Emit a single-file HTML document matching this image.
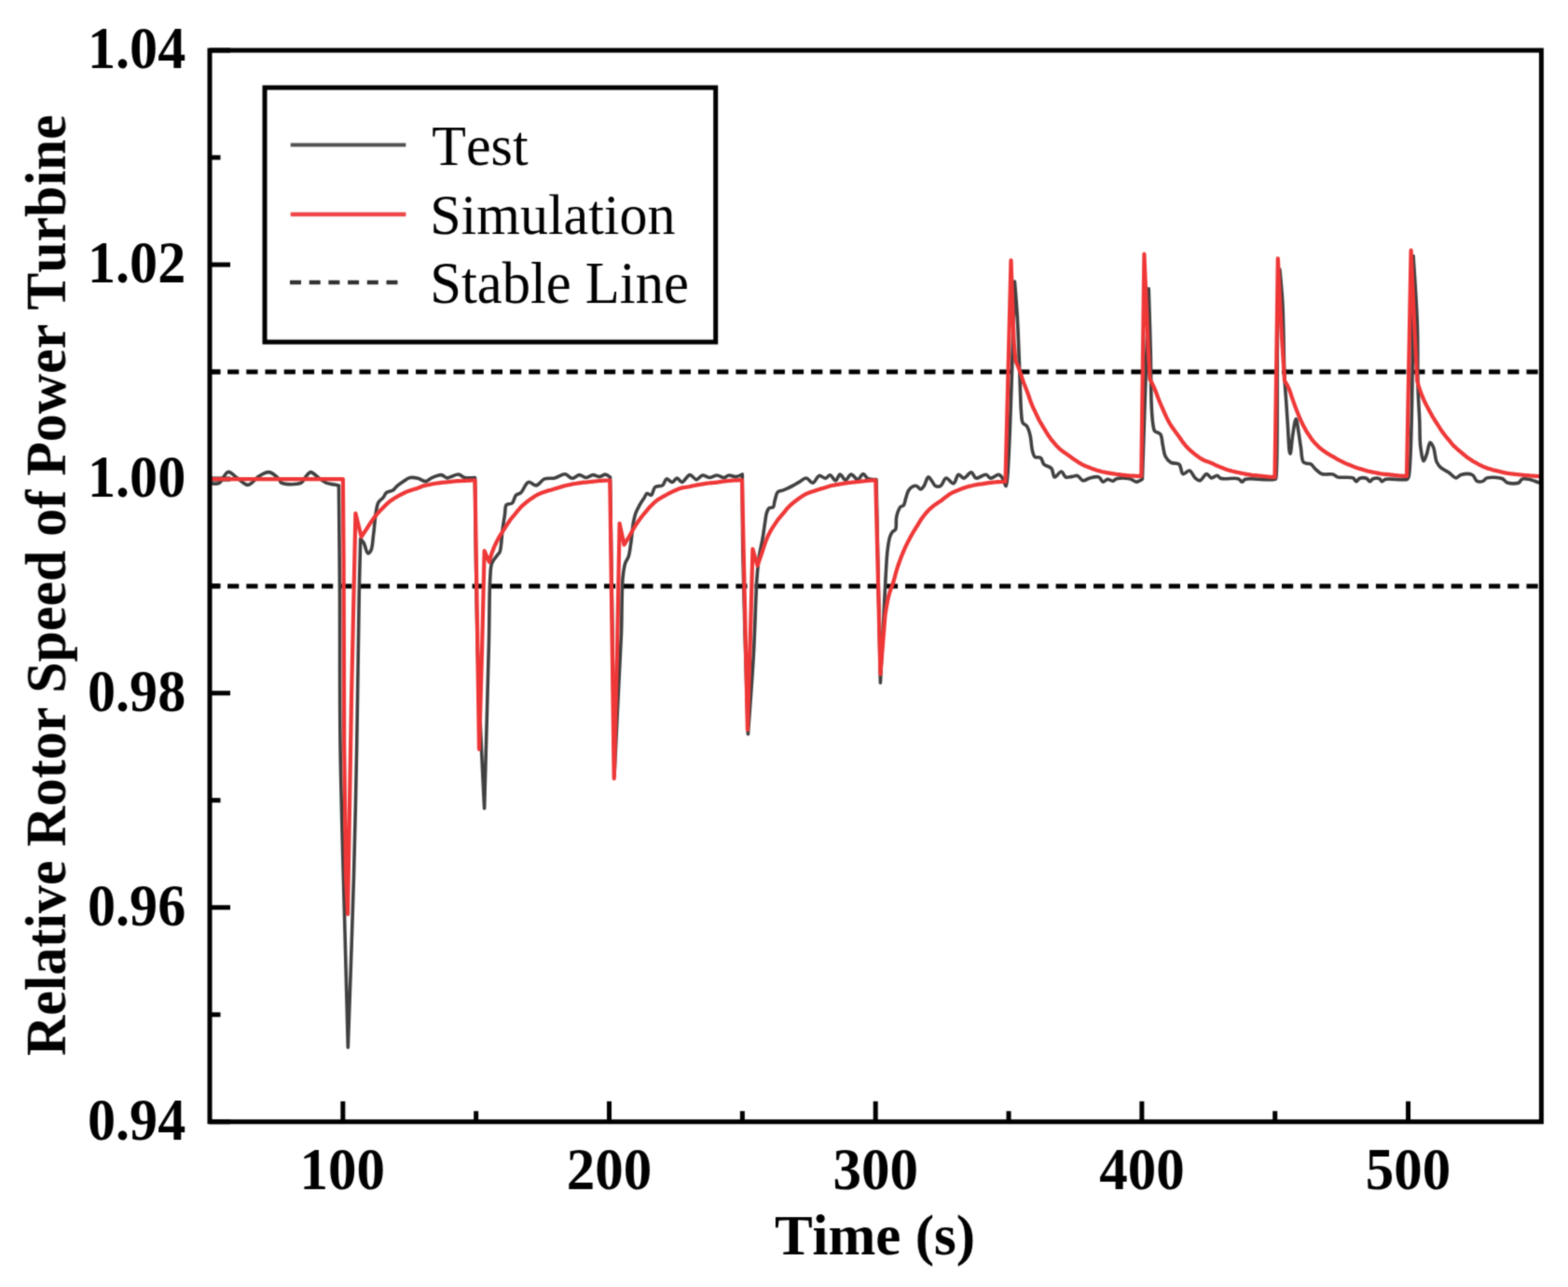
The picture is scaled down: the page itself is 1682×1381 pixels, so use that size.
<!DOCTYPE html>
<html><head><meta charset="utf-8"><style>
html,body{margin:0;padding:0;background:#fff;}
body{width:1682px;height:1381px;overflow:hidden;}
svg{display:block;}
text{font-kerning:none;}
.tk{font-family:"Liberation Serif",serif;font-weight:bold;font-size:61px;fill:#000;}
.lg{font-family:"Liberation Serif",serif;font-size:60px;fill:#000;}
</style></head><body>
<svg width="1682" height="1381" viewBox="0 0 1682 1381">
<defs><filter id="bl" color-interpolation-filters="sRGB" x="0" y="0" width="1682" height="1381" filterUnits="userSpaceOnUse"><feConvolveMatrix order="3" kernelMatrix="0.03607 0.11778 0.03607 0.11778 0.38462 0.11778 0.03607 0.11778 0.03607" edgeMode="duplicate"/></filter></defs>
<rect x="0" y="0" width="1682" height="1381" fill="#fff"/>
<g filter="url(#bl)">
<g class="tk" text-anchor="end">
<text transform="translate(199.2 72.6) scale(0.985 1.035)">1.04</text>
<text transform="translate(199.2 302.6) scale(0.985 1.035)">1.02</text>
<text transform="translate(199.2 532.6) scale(0.985 1.035)">1.00</text>
<text transform="translate(199.2 762.6) scale(0.985 1.035)">0.98</text>
<text transform="translate(199.2 992.6) scale(0.985 1.035)">0.96</text>
<text transform="translate(199.2 1222.6) scale(0.985 1.035)">0.94</text>
</g>
<g class="tk" text-anchor="middle">
<text transform="translate(367.3 1276.2) scale(1.0 1.045)">100</text>
<text transform="translate(653.5 1276.2) scale(1.0 1.045)">200</text>
<text transform="translate(939.2 1276.2) scale(1.0 1.045)">300</text>
<text transform="translate(1224.9 1276.2) scale(1.0 1.045)">400</text>
<text transform="translate(1510.6 1276.2) scale(1.0 1.045)">500</text>
</g>
<text class="tk" x="938.5" y="1345.5" text-anchor="middle" font-size="60">Time (s)</text>
<text class="tk" transform="translate(69.8 628.05) rotate(-90) scale(0.9824 1)" text-anchor="middle" font-size="60">Relative Rotor Speed of Power Turbine</text>
<g stroke="#000" stroke-width="5" fill="none">
<path d="M225.0 54.00H247.0M225.0 283.94H247.0M225.0 513.88H247.0M225.0 743.82H247.0M225.0 973.76H247.0M225.0 1203.70H247.0M225.0 168.97H236.5M225.0 398.91H236.5M225.0 628.85H236.5M225.0 858.79H236.5M225.0 1088.73H236.5"/>
<path d="M367.84 1203.7V1181.7M653.52 1203.7V1181.7M939.20 1203.7V1181.7M1224.88 1203.7V1181.7M1510.56 1203.7V1181.7M510.68 1203.7V1192.2M796.36 1203.7V1192.2M1082.04 1203.7V1192.2M1367.72 1203.7V1192.2"/>
</g>
<g stroke="#000" stroke-width="5" stroke-dasharray="12.2 7.994" stroke-dashoffset="0" fill="none">
<path d="M223.9 398.9H1651.5"/>
<path d="M223.9 628.9H1651.5"/>
</g>
<g fill="none" stroke-linejoin="round" stroke-linecap="round">
<path stroke="#404040" stroke-width="3.6" d="M226.0 518.6C226.0 518.6 232.2 519.8 235.0 518.4C238.6 516.6 241.1 507.0 244.6 506.4C247.6 505.9 251.0 510.6 254.4 512.8C258.1 515.2 262.2 520.6 266.0 520.4C269.9 520.2 273.6 513.5 277.6 511.1C281.1 509.0 284.8 506.3 288.3 506.6C292.0 506.9 296.7 511.4 299.0 513.7C300.5 515.2 300.1 517.2 302.0 518.2C305.7 520.2 318.8 520.3 323.0 518.2C325.6 516.9 325.9 513.9 327.6 512.0C329.3 510.1 331.3 506.7 333.4 506.6C335.7 506.5 338.3 510.2 340.9 512.0C343.8 514.0 346.8 516.9 349.9 518.2C352.8 519.4 356.3 519.5 358.8 520.0C360.6 520.4 363.4 521.0 363.4 521.0C363.4 521.0 364.1 588.9 364.4 629.0C364.7 679.5 364.2 740.8 365.0 800.0C365.9 864.1 368.5 941.3 370.0 1000.0C371.2 1046.3 373.3 1124.0 373.3 1124.0C373.3 1124.0 377.9 997.2 379.5 940.0C380.9 890.2 381.8 848.2 382.7 800.0C383.7 748.4 384.4 680.9 385.2 640.0C385.7 614.6 386.7 578.2 386.7 578.2C386.7 578.2 389.1 580.6 390.2 582.5C391.8 585.3 392.9 593.4 394.6 593.8C395.7 594.0 397.1 592.2 398.0 590.4C399.7 587.1 399.8 579.8 400.6 573.8C401.6 566.7 402.1 556.8 403.2 550.4C404.0 545.9 404.3 542.0 405.9 539.1C407.2 536.8 409.6 535.7 411.1 533.9C412.5 532.2 412.9 530.0 414.5 528.7C416.3 527.3 419.6 527.4 421.5 526.1C423.3 525.0 424.1 523.2 425.8 521.7C427.8 520.0 430.4 518.1 432.8 516.5C435.1 515.0 437.4 513.0 440.0 512.5C442.6 512.0 445.6 512.6 448.3 513.3C451.1 514.0 454.1 516.8 456.6 516.6C458.9 516.4 460.5 514.0 462.9 512.9C465.9 511.6 470.3 509.3 473.3 509.6C475.7 509.8 477.6 512.7 479.5 512.9C481.0 513.0 482.1 512.1 483.7 511.6C486.0 510.9 489.5 508.8 492.0 509.1C494.3 509.3 495.8 511.9 498.3 512.5C501.4 513.3 509.5 512.5 509.5 512.5C509.5 512.5 510.0 568.5 510.5 600.0C511.1 636.8 511.6 677.9 513.0 720.0C514.5 766.6 519.6 867.5 519.6 867.5C519.6 867.5 523.3 735.6 524.4 690.0C525.1 661.3 524.8 635.0 525.8 620.0C526.3 612.9 526.0 608.6 527.6 604.3C528.9 600.8 532.0 597.8 533.6 595.6C534.6 594.2 535.5 593.9 536.2 592.1C537.9 588.0 538.0 576.5 538.9 569.5C539.7 563.3 540.7 557.2 541.5 552.1C542.1 548.2 541.5 543.6 543.2 541.7C544.5 540.2 547.7 541.4 549.3 540.0C551.3 538.3 551.7 533.2 553.6 531.3C555.1 529.8 557.1 530.2 558.8 528.7C561.5 526.4 563.6 518.3 566.7 517.4C569.2 516.6 572.5 521.3 575.3 520.9C578.3 520.5 580.7 515.2 584.0 513.9C587.3 512.6 591.4 513.7 595.0 512.9C598.8 512.0 602.9 508.4 606.2 508.7C609.0 509.0 611.1 513.2 613.7 513.3C616.3 513.4 619.1 509.6 621.6 509.6C623.9 509.6 626.0 512.4 628.3 512.5C630.8 512.6 633.7 509.7 636.2 509.6C638.5 509.5 640.7 511.7 642.9 511.6C645.1 511.5 647.5 508.9 649.5 509.1C651.3 509.2 654.5 512.0 654.5 512.0C654.5 512.0 655.8 600.8 656.5 650.0C657.3 706.7 659.0 833.0 659.0 833.0C659.0 833.0 661.7 776.5 663.0 750.0C664.2 725.7 665.6 702.4 666.5 680.0C667.3 659.2 666.8 633.5 668.1 620.0C668.8 613.0 669.4 608.4 670.7 604.3C671.6 601.4 673.3 600.1 674.2 597.3C675.5 593.4 676.0 587.9 676.8 582.5C677.8 576.0 678.3 566.7 679.4 560.8C680.2 556.7 680.8 553.7 682.0 550.4C683.1 547.3 684.8 544.4 686.3 541.7C687.7 539.2 689.3 536.9 690.7 534.8C691.9 532.9 692.7 530.0 694.1 529.5C695.3 529.1 697.2 531.8 698.5 531.3C700.3 530.6 700.6 524.3 702.8 522.6C704.8 521.0 708.7 522.3 710.7 520.9C712.7 519.5 713.2 514.4 715.0 513.9C716.7 513.5 719.2 517.6 721.1 517.4C723.0 517.2 724.6 513.0 726.3 513.0C728.0 513.0 729.6 517.4 731.5 517.4C734.0 517.3 737.2 509.8 740.0 509.6C742.4 509.4 744.8 514.6 747.1 514.6C749.3 514.6 751.4 510.3 753.7 510.0C755.9 509.7 758.3 512.4 760.8 512.5C763.4 512.6 766.4 510.0 769.1 510.0C771.7 510.0 774.3 512.6 776.6 512.5C778.6 512.4 780.0 510.2 782.0 510.0C784.2 509.8 786.7 511.7 789.1 511.6C791.5 511.4 796.3 509.0 796.3 509.0C796.3 509.0 796.3 564.2 797.0 600.0C797.9 651.4 802.4 787.8 802.4 787.8C802.4 787.8 806.9 728.6 808.5 700.0C810.0 672.7 810.6 639.0 812.0 620.0C812.8 609.5 813.5 603.0 814.6 595.6C815.6 589.3 817.0 584.0 818.0 578.2C819.0 572.4 819.8 565.9 820.6 560.8C821.2 556.9 821.5 553.2 822.4 550.4C823.1 548.3 823.7 546.2 825.0 545.2C826.1 544.3 828.3 545.3 829.3 544.3C830.6 543.1 830.3 539.9 831.1 537.4C832.0 534.4 832.6 529.6 834.5 527.8C835.9 526.5 838.0 526.8 839.8 526.1C841.8 525.4 843.9 524.4 845.8 523.5C847.6 522.7 849.2 521.9 851.0 520.9C853.0 519.8 854.9 518.6 857.1 517.4C859.6 516.0 862.5 512.8 865.0 513.0C867.4 513.2 869.7 518.4 871.9 518.2C874.3 518.0 876.3 511.0 878.8 510.4C880.9 509.9 883.6 513.5 885.6 513.3C887.4 513.1 888.8 509.6 890.4 509.7C892.3 509.8 894.5 515.8 896.3 515.7C898.1 515.6 899.3 509.2 901.1 509.1C902.9 509.0 905.0 515.1 907.0 515.1C909.0 515.1 910.8 509.2 913.0 509.1C915.2 509.0 917.9 514.7 920.1 514.5C922.2 514.3 924.1 508.5 926.0 508.5C927.7 508.5 928.7 512.3 930.8 513.3C933.2 514.5 940.0 514.5 940.0 514.5C940.0 514.5 944.4 732.6 944.4 732.6C944.4 732.6 947.4 671.3 948.5 650.0C949.2 636.5 949.6 627.3 950.2 616.9C950.8 607.7 951.1 598.3 952.0 590.8C952.7 585.2 953.4 579.6 954.6 576.0C955.3 573.8 956.1 572.1 957.2 570.8C958.2 569.6 959.8 569.6 960.6 568.2C961.9 565.8 961.0 559.6 961.5 556.1C961.9 553.4 962.4 551.2 963.2 549.1C963.9 547.2 964.7 545.1 965.9 543.9C966.9 543.0 968.4 543.2 969.3 542.2C970.5 540.8 970.6 538.0 971.4 535.6C972.3 532.8 973.1 528.8 974.5 526.5C975.6 524.7 977.0 523.2 978.5 522.4C979.9 521.6 981.7 521.1 983.1 521.4C984.7 521.8 986.2 525.1 987.6 525.0C988.9 524.9 990.1 523.0 991.2 521.4C992.9 519.1 994.1 512.0 995.8 511.8C997.1 511.6 998.5 514.8 999.8 516.4C1001.1 518.0 1001.8 520.6 1003.4 521.4C1004.9 522.2 1007.3 522.3 1009.0 521.4C1011.3 520.2 1012.5 513.5 1014.8 513.1C1017.1 512.7 1020.7 519.3 1022.9 518.8C1025.2 518.3 1026.0 509.8 1028.1 509.3C1029.8 508.9 1031.8 513.2 1033.8 513.1C1036.3 513.0 1039.6 506.6 1041.9 506.9C1043.9 507.1 1044.8 512.5 1047.1 513.1C1049.8 513.8 1054.9 508.9 1057.6 509.3C1059.6 509.6 1060.5 512.8 1062.4 513.1C1064.9 513.4 1069.1 508.8 1071.4 509.3C1073.2 509.7 1074.5 511.8 1075.7 513.6C1077.1 515.8 1078.2 521.8 1079.0 521.7C1079.8 521.6 1080.0 518.3 1080.5 514.0C1083.1 491.4 1088.4 302.0 1088.4 302.0C1088.4 302.0 1090.5 326.0 1091.3 340.0C1092.3 357.2 1093.1 382.0 1093.7 397.4C1094.1 407.8 1094.3 415.6 1094.6 423.4C1094.9 429.8 1094.9 435.4 1095.4 440.8C1095.8 445.5 1095.6 451.0 1097.2 453.8C1098.2 455.6 1100.3 455.6 1101.5 457.3C1103.1 459.6 1104.1 463.2 1105.0 466.9C1106.2 471.8 1106.4 480.1 1107.6 484.3C1108.3 486.9 1108.7 489.2 1110.2 490.3C1111.6 491.4 1114.7 490.1 1116.3 491.2C1118.1 492.5 1118.0 496.3 1119.8 498.2C1121.7 500.2 1125.9 500.3 1127.8 502.5C1129.8 504.8 1129.5 511.5 1131.3 512.0C1133.1 512.5 1136.4 505.8 1138.5 506.0C1140.4 506.2 1141.2 511.1 1143.2 512.0C1145.1 512.8 1147.8 511.7 1150.0 511.4C1152.0 511.2 1153.9 510.0 1155.7 510.5C1157.9 511.1 1159.6 515.3 1161.9 515.7C1164.1 516.1 1166.4 513.5 1169.0 512.9C1171.9 512.2 1176.1 511.0 1178.6 511.9C1180.7 512.7 1181.6 516.8 1183.3 517.1C1184.8 517.3 1186.4 514.5 1188.1 514.3C1189.9 514.1 1192.1 516.4 1193.8 516.2C1195.2 516.0 1195.8 514.3 1197.6 513.8C1200.8 512.9 1208.0 512.9 1211.9 513.8C1214.8 514.4 1216.7 517.1 1219.0 517.1C1221.2 517.1 1225.4 514.0 1225.4 514.0C1225.4 514.0 1232.2 309.8 1232.2 309.8C1232.2 309.8 1233.8 358.0 1234.3 380.0C1234.7 399.4 1234.5 420.7 1235.2 434.8C1235.6 443.7 1236.1 451.5 1237.0 456.5C1237.5 459.2 1237.5 461.0 1238.7 462.6C1240.0 464.2 1243.4 464.0 1244.8 466.0C1246.7 468.6 1246.5 474.2 1247.4 478.2C1248.3 482.0 1248.4 486.4 1250.0 489.5C1251.4 492.3 1253.6 495.0 1256.1 496.4C1258.6 497.8 1262.7 496.4 1264.8 498.2C1267.2 500.2 1266.9 507.8 1269.1 508.6C1270.9 509.3 1273.9 504.6 1276.0 505.1C1278.3 505.6 1279.9 511.1 1282.1 512.9C1283.8 514.3 1285.5 515.9 1287.3 515.6C1289.6 515.2 1292.1 508.7 1294.3 508.6C1296.1 508.5 1297.6 512.6 1299.5 512.9C1301.4 513.2 1303.8 510.1 1305.6 510.3C1307.1 510.5 1307.6 512.6 1309.5 513.3C1313.3 514.7 1324.8 512.3 1328.6 513.8C1330.5 514.6 1331.2 517.1 1332.4 517.1C1333.5 517.1 1333.8 515.0 1335.7 514.3C1340.8 512.4 1365.0 516.3 1368.0 514.3C1368.8 513.8 1368.6 513.6 1368.8 512.4C1371.1 501.5 1369.5 380.5 1370.6 340.0C1371.2 318.0 1372.8 289.0 1372.8 289.0C1372.8 289.0 1375.0 310.1 1375.8 324.3C1377.0 345.9 1377.1 386.3 1378.0 406.0C1378.5 417.1 1379.2 423.4 1379.8 432.1C1380.4 440.8 1380.9 449.5 1381.5 458.2C1382.1 466.9 1382.4 480.2 1383.2 484.3C1383.5 485.6 1383.8 486.9 1384.1 486.9C1384.9 486.8 1385.6 473.3 1386.7 466.9C1387.7 460.9 1389.1 449.5 1390.2 449.5C1391.1 449.5 1392.0 457.8 1392.8 462.5C1393.7 467.9 1394.5 474.3 1395.4 479.9C1396.2 485.3 1396.1 493.1 1398.0 495.6C1398.9 496.8 1400.2 496.9 1401.5 497.3C1402.9 497.7 1404.6 497.1 1406.0 497.8C1407.8 498.7 1409.2 501.6 1411.1 503.3C1413.1 505.1 1415.0 507.5 1417.8 508.5C1421.1 509.7 1427.0 508.1 1430.0 509.0C1432.1 509.6 1432.6 511.2 1434.8 511.9C1438.6 513.1 1448.1 511.3 1451.4 512.9C1453.2 513.8 1453.6 516.6 1454.8 516.7C1456.0 516.8 1457.0 513.9 1458.6 513.3C1460.5 512.6 1463.8 512.6 1465.7 513.3C1467.3 513.9 1468.3 516.7 1469.5 516.7C1470.7 516.7 1471.4 514.3 1472.9 513.8C1474.7 513.1 1478.4 513.0 1480.0 513.8C1481.2 514.4 1481.4 516.5 1482.4 516.7C1483.5 516.9 1484.3 514.9 1486.2 514.3C1490.6 513.0 1506.3 515.9 1509.4 514.3C1510.5 513.7 1510.5 513.5 1511.0 512.0C1515.6 497.9 1516.0 274.5 1516.0 274.5C1516.0 274.5 1519.6 325.5 1520.4 350.0C1521.2 373.1 1520.5 398.6 1521.1 417.4C1521.5 430.9 1522.4 441.4 1522.8 452.1C1523.2 461.4 1522.8 470.5 1523.7 478.2C1524.5 484.4 1525.8 494.6 1527.2 494.7C1528.2 494.8 1529.5 489.8 1530.6 486.9C1531.9 483.3 1532.6 474.9 1534.1 474.7C1535.1 474.5 1536.6 477.6 1537.6 479.9C1539.2 483.6 1539.4 491.7 1541.1 495.6C1542.3 498.2 1543.5 499.8 1545.4 501.6C1547.6 503.7 1551.3 505.0 1554.1 506.9C1556.8 508.8 1559.5 512.8 1561.9 512.9C1563.8 513.0 1564.9 510.2 1567.1 509.5C1570.2 508.6 1576.3 508.0 1579.3 509.5C1581.8 510.7 1582.4 515.3 1584.5 516.4C1586.3 517.3 1588.8 517.0 1590.6 516.4C1592.3 515.8 1592.8 513.6 1594.9 512.9C1598.5 511.7 1607.4 512.1 1611.3 513.5C1613.9 514.5 1614.6 517.2 1617.0 518.0C1620.2 519.1 1626.5 519.2 1629.2 518.0C1630.9 517.2 1631.1 514.9 1632.7 514.2C1634.5 513.4 1637.3 513.8 1639.9 514.2C1643.2 514.7 1648.5 517.2 1650.6 517.7C1651.5 517.9 1652.5 517.9 1652.5 517.9"/>
<path stroke="#ef3737" stroke-width="4.2" d="M226.0 514.2L367.9 514.2L368.6 600.0L369.2 800.0L371.0 940.0L373.0 981.0L377.0 750.0L381.4 550.8L387.6 576.0L389.1 573.8L390.6 571.6L392.1 569.4L393.6 567.1L395.1 564.7L396.6 562.3L398.1 560.0L399.6 557.9L401.1 555.8L402.6 553.9L404.2 552.0L405.7 550.2L407.2 548.5L408.7 547.0L410.2 545.5L411.7 544.0L413.2 542.5L414.7 541.0L416.2 539.6L417.7 538.4L419.2 537.2L420.7 536.2L422.2 535.2L423.7 534.3L425.2 533.4L426.7 532.5L428.2 531.7L429.7 530.9L431.2 530.1L432.7 529.3L434.3 528.5L435.8 527.9L437.3 527.2L438.8 526.7L440.3 526.2L441.8 525.7L443.3 525.3L444.8 524.8L446.3 524.4L447.8 523.9L449.3 523.3L450.8 522.7L452.3 522.1L453.8 521.6L455.3 521.1L456.8 520.7L458.3 520.5L459.8 520.2L461.3 519.9L462.8 519.5L464.4 519.2L465.9 519.0L467.4 518.7L468.9 518.5L470.4 518.3L471.9 518.1L473.4 517.9L474.9 517.7L476.4 517.6L477.9 517.5L479.4 517.3L480.9 517.2L482.4 517.0L483.9 516.8L485.4 516.6L486.9 516.5L488.4 516.3L489.9 516.2L491.4 516.1L492.9 516.1L494.5 516.0L496.0 515.9L497.5 515.8L499.0 515.8L500.5 515.7L502.0 515.6L503.5 515.6L505.0 515.5L506.5 515.5L508.0 515.4L509.5 515.4L514.0 804.0L517.0 700.0L519.6 591.2L524.8 603.0L526.3 597.6L527.8 592.9L529.3 588.9L530.8 585.5L532.3 582.3L533.8 579.4L535.3 576.6L536.8 574.0L538.4 571.6L539.9 569.2L541.4 566.8L542.9 564.5L544.4 562.2L545.9 560.0L547.4 557.8L548.9 555.9L550.4 554.1L551.9 552.4L553.4 550.5L554.9 548.6L556.4 546.8L557.9 545.1L559.4 543.6L560.9 542.1L562.4 540.8L564.0 539.5L565.5 538.2L567.0 537.1L568.5 535.9L570.0 534.9L571.5 533.9L573.0 532.9L574.5 532.0L576.0 531.2L577.5 530.4L579.0 529.7L580.5 529.1L582.0 528.6L583.5 528.1L585.0 527.6L586.5 527.1L588.0 526.6L589.5 526.1L591.1 525.7L592.6 525.2L594.1 524.8L595.6 524.3L597.1 523.9L598.6 523.5L600.1 523.0L601.6 522.5L603.1 522.1L604.6 521.6L606.1 521.2L607.6 520.8L609.1 520.5L610.6 520.2L612.1 519.9L613.6 519.5L615.1 519.2L616.7 519.0L618.2 518.8L619.7 518.5L621.2 518.3L622.7 518.1L624.2 517.9L625.7 517.7L627.2 517.6L628.7 517.5L630.2 517.3L631.7 517.2L633.2 517.0L634.7 516.8L636.2 516.6L637.7 516.5L639.2 516.3L640.7 516.2L642.3 516.0L643.8 515.9L645.3 515.8L646.8 515.7L648.3 515.6L649.8 515.6L651.3 515.5L652.8 515.5L654.3 515.4L658.7 835.4L662.0 700.0L664.6 561.7L669.5 584.5L671.0 582.2L672.5 579.7L674.0 577.3L675.5 574.7L677.0 572.0L678.5 569.3L680.0 566.7L681.5 564.2L683.1 561.8L684.6 559.5L686.1 557.4L687.6 555.4L689.1 553.5L690.6 551.7L692.1 549.9L693.6 548.1L695.1 546.2L696.6 544.5L698.1 542.9L699.6 541.4L701.1 540.0L702.6 538.7L704.1 537.4L705.6 536.3L707.1 535.3L708.7 534.4L710.2 533.5L711.7 532.6L713.2 531.8L714.7 531.0L716.2 530.2L717.7 529.4L719.2 528.6L720.7 527.9L722.2 527.2L723.7 526.5L725.2 525.8L726.7 525.2L728.2 524.5L729.7 524.0L731.2 523.6L732.8 523.2L734.3 523.0L735.8 522.8L737.3 522.5L738.8 522.3L740.3 522.0L741.8 521.6L743.3 521.3L744.8 521.0L746.3 520.7L747.8 520.4L749.3 520.2L750.8 519.9L752.3 519.7L753.8 519.4L755.3 519.2L756.8 518.9L758.4 518.7L759.9 518.5L761.4 518.4L762.9 518.2L764.4 518.1L765.9 517.9L767.4 517.8L768.9 517.6L770.4 517.4L771.9 517.2L773.4 516.9L774.9 516.7L776.4 516.4L777.9 516.3L779.4 516.1L780.9 516.0L782.4 515.8L784.0 515.7L785.5 515.6L787.0 515.5L788.5 515.4L790.0 515.4L791.5 515.3L793.0 515.2L794.5 515.1L796.0 515.0L801.9 783.2L805.0 680.0L807.4 589.0L812.5 607.0L814.0 602.8L815.5 598.5L817.0 594.1L818.5 589.6L820.0 584.9L821.6 580.4L823.1 576.6L824.6 573.5L826.1 570.6L827.6 568.0L829.1 565.6L830.6 563.3L832.1 561.1L833.6 558.9L835.1 556.8L836.7 555.0L838.2 553.2L839.7 551.5L841.2 549.6L842.7 547.7L844.2 545.9L845.7 544.3L847.2 542.8L848.7 541.4L850.2 540.1L851.7 538.8L853.3 537.6L854.8 536.5L856.3 535.4L857.8 534.3L859.3 533.3L860.8 532.3L862.3 531.3L863.8 530.5L865.3 529.7L866.8 529.1L868.4 528.5L869.9 527.9L871.4 527.5L872.9 527.0L874.4 526.5L875.9 526.0L877.4 525.5L878.9 525.0L880.4 524.6L881.9 524.1L883.4 523.7L885.0 523.2L886.5 522.7L888.0 522.2L889.5 521.8L891.0 521.3L892.5 521.0L894.0 520.7L895.5 520.4L897.0 520.1L898.5 519.9L900.1 519.6L901.6 519.3L903.1 519.1L904.6 518.8L906.1 518.6L907.6 518.4L909.1 518.2L910.6 518.0L912.1 517.8L913.6 517.6L915.1 517.5L916.7 517.3L918.2 517.1L919.7 517.0L921.2 516.8L922.7 516.6L924.2 516.5L925.7 516.3L927.2 516.2L928.7 516.0L930.2 515.8L931.8 515.7L933.3 515.6L934.8 515.5L936.3 515.4L937.8 515.4L939.3 515.3L944.4 723.5L949.5 660.0L951.0 650.6L952.5 642.8L954.0 636.7L955.5 632.3L957.0 628.5L958.5 624.0L960.0 618.5L961.5 612.9L963.0 608.0L964.5 603.7L966.0 599.6L967.5 595.8L969.0 592.1L970.5 588.6L972.0 585.4L973.5 582.4L975.0 579.5L976.5 576.6L978.0 573.9L979.5 571.3L981.0 568.8L982.5 566.4L984.0 564.1L985.5 561.6L987.0 559.0L988.5 556.8L990.0 554.7L991.5 552.8L993.0 550.9L994.5 549.2L996.0 547.6L997.5 546.1L999.0 544.8L1000.5 543.5L1002.0 542.4L1003.5 541.2L1005.0 540.2L1006.5 539.1L1008.0 538.2L1009.5 537.2L1011.0 536.2L1012.5 534.9L1014.0 533.7L1015.5 532.6L1017.0 531.5L1018.5 530.4L1020.0 529.5L1021.5 528.7L1023.0 528.0L1024.5 527.3L1026.0 526.7L1027.5 526.1L1029.0 525.5L1030.5 524.9L1032.0 524.3L1033.5 523.7L1035.0 523.2L1036.5 522.7L1038.0 522.3L1039.5 521.9L1041.0 521.5L1042.5 521.2L1044.0 520.8L1045.5 520.5L1047.0 520.2L1048.5 519.9L1050.0 519.7L1051.5 519.5L1053.0 519.3L1054.5 519.1L1056.0 518.8L1057.5 518.6L1059.0 518.4L1060.5 518.2L1062.0 518.0L1063.5 517.8L1065.0 517.6L1066.5 517.5L1068.0 517.3L1069.5 517.2L1071.0 517.1L1072.5 517.1L1074.0 517.0L1075.5 517.0L1077.0 516.9L1078.5 516.9L1084.5 279.3L1087.5 365.0L1089.3 387.0L1090.8 390.2L1092.3 393.8L1093.8 397.7L1095.3 402.1L1096.8 406.8L1098.3 411.2L1099.8 415.1L1101.3 418.8L1102.8 422.8L1104.3 427.2L1105.8 431.5L1107.3 435.3L1108.8 438.6L1110.3 441.7L1111.8 444.9L1113.3 448.0L1114.8 451.0L1116.3 453.7L1117.8 456.2L1119.3 458.7L1120.8 461.2L1122.3 463.7L1123.8 466.0L1125.3 468.3L1126.8 470.4L1128.3 472.4L1129.8 474.2L1131.3 476.0L1132.8 477.7L1134.3 479.3L1135.8 480.8L1137.3 482.2L1138.8 483.4L1140.3 484.5L1141.8 485.5L1143.3 486.6L1144.8 487.6L1146.3 488.7L1147.8 489.8L1149.3 490.9L1150.8 492.0L1152.3 493.1L1153.8 494.1L1155.3 495.1L1156.8 496.1L1158.3 496.9L1159.8 497.8L1161.3 498.6L1162.8 499.3L1164.3 500.0L1165.8 500.6L1167.3 501.2L1168.8 501.8L1170.3 502.4L1171.8 503.1L1173.3 503.6L1174.8 504.1L1176.3 504.6L1177.8 505.0L1179.3 505.4L1180.8 505.8L1182.3 506.2L1183.8 506.5L1185.3 506.8L1186.8 507.2L1188.3 507.4L1189.8 507.7L1191.3 507.9L1192.8 508.1L1194.3 508.3L1195.8 508.5L1197.3 508.8L1198.8 509.0L1200.3 509.2L1201.8 509.4L1203.3 509.6L1204.8 509.8L1206.3 509.9L1207.8 510.1L1209.3 510.3L1210.8 510.4L1212.3 510.5L1213.8 510.6L1215.3 510.6L1216.8 510.7L1218.3 510.8L1219.8 510.8L1221.3 510.9L1222.8 510.9L1224.3 511.0L1227.4 272.7L1231.5 370.0L1233.5 407.0L1235.0 409.7L1236.5 412.6L1238.0 415.9L1239.5 419.4L1241.0 423.4L1242.5 427.5L1244.0 431.2L1245.5 434.8L1247.1 438.3L1248.6 441.8L1250.1 445.2L1251.6 448.4L1253.1 451.3L1254.6 454.0L1256.1 456.5L1257.6 458.7L1259.1 460.8L1260.6 462.9L1262.1 464.9L1263.6 467.0L1265.1 469.0L1266.6 471.2L1268.1 473.4L1269.6 475.4L1271.1 477.3L1272.6 479.1L1274.2 480.7L1275.7 482.2L1277.2 483.6L1278.7 484.9L1280.2 486.2L1281.7 487.4L1283.2 488.5L1284.7 489.6L1286.2 490.7L1287.7 491.7L1289.2 492.6L1290.7 493.5L1292.2 494.2L1293.7 494.8L1295.2 495.3L1296.7 495.8L1298.2 496.4L1299.7 497.0L1301.3 497.7L1302.8 498.5L1304.3 499.3L1305.8 499.9L1307.3 500.5L1308.8 501.1L1310.3 501.7L1311.8 502.3L1313.3 502.9L1314.8 503.5L1316.3 504.0L1317.8 504.5L1319.3 504.9L1320.8 505.3L1322.3 505.7L1323.8 506.0L1325.3 506.4L1326.8 506.7L1328.4 507.0L1329.9 507.4L1331.4 507.7L1332.9 508.0L1334.4 508.3L1335.9 508.6L1337.4 508.9L1338.9 509.1L1340.4 509.4L1341.9 509.7L1343.4 509.9L1344.9 510.0L1346.4 510.1L1347.9 510.2L1349.4 510.4L1350.9 510.5L1352.4 510.7L1353.9 510.9L1355.5 511.0L1357.0 511.2L1358.5 511.3L1360.0 511.5L1361.5 511.7L1363.0 511.8L1364.5 511.9L1366.0 512.0L1367.5 512.1L1370.8 277.4L1374.9 360.4L1378.0 408.7L1379.5 410.9L1381.0 413.6L1382.5 416.8L1384.0 420.7L1385.5 425.3L1387.0 429.6L1388.5 433.9L1390.0 438.0L1391.6 442.0L1393.1 445.7L1394.6 449.3L1396.1 452.6L1397.6 455.7L1399.1 458.6L1400.6 461.3L1402.1 463.8L1403.6 466.1L1405.1 468.4L1406.6 470.6L1408.1 472.7L1409.6 474.4L1411.1 476.1L1412.6 477.6L1414.1 479.1L1415.6 480.5L1417.1 481.7L1418.7 482.9L1420.2 484.0L1421.7 485.1L1423.2 486.1L1424.7 487.0L1426.2 487.9L1427.7 488.8L1429.2 489.6L1430.7 490.4L1432.2 491.3L1433.7 492.3L1435.2 493.1L1436.7 493.9L1438.2 494.6L1439.7 495.3L1441.2 496.1L1442.7 496.9L1444.3 497.6L1445.8 498.2L1447.3 498.8L1448.8 499.4L1450.3 500.0L1451.8 500.6L1453.3 501.2L1454.8 501.7L1456.3 502.2L1457.8 502.7L1459.3 503.1L1460.8 503.6L1462.3 504.0L1463.8 504.5L1465.3 504.9L1466.8 505.4L1468.3 505.8L1469.9 506.1L1471.4 506.4L1472.9 506.7L1474.4 507.0L1475.9 507.3L1477.4 507.6L1478.9 507.9L1480.4 508.2L1481.9 508.5L1483.4 508.7L1484.9 508.8L1486.4 508.9L1487.9 509.1L1489.4 509.2L1490.9 509.4L1492.4 509.6L1493.9 509.7L1495.4 509.9L1497.0 510.0L1498.5 510.2L1500.0 510.4L1501.5 510.5L1503.0 510.6L1504.5 510.7L1506.0 510.8L1507.5 510.9L1509.0 511.0L1513.6 268.7L1517.5 355.0L1520.2 408.7L1521.7 413.9L1523.2 418.6L1524.7 422.7L1526.2 426.4L1527.7 429.8L1529.2 433.0L1530.7 435.9L1532.2 438.8L1533.7 441.6L1535.2 444.3L1536.7 447.0L1538.2 449.4L1539.7 451.8L1541.2 454.1L1542.8 456.6L1544.3 459.0L1545.8 461.3L1547.3 463.5L1548.8 465.5L1550.3 467.5L1551.8 469.3L1553.3 471.1L1554.8 472.9L1556.3 474.8L1557.8 476.6L1559.3 478.2L1560.8 479.7L1562.3 481.0L1563.8 482.3L1565.3 483.6L1566.8 484.9L1568.3 486.1L1569.8 487.4L1571.3 488.7L1572.8 489.9L1574.3 491.0L1575.8 492.1L1577.3 493.1L1578.8 494.1L1580.3 495.0L1581.8 495.8L1583.3 496.7L1584.8 497.5L1586.3 498.3L1587.9 499.1L1589.4 499.9L1590.9 500.6L1592.4 501.3L1593.9 501.8L1595.4 502.4L1596.9 502.9L1598.4 503.3L1599.9 503.7L1601.4 504.2L1602.9 504.6L1604.4 504.9L1605.9 505.3L1607.4 505.6L1608.9 506.0L1610.4 506.4L1611.9 506.7L1613.4 507.1L1614.9 507.5L1616.4 507.7L1617.9 508.0L1619.4 508.2L1620.9 508.4L1622.4 508.5L1623.9 508.7L1625.4 508.9L1626.9 509.0L1628.4 509.2L1629.9 509.3L1631.5 509.5L1633.0 509.7L1634.5 509.8L1636.0 510.0L1637.5 510.1L1639.0 510.2L1640.5 510.3L1642.0 510.5L1643.5 510.6L1645.0 510.7L1646.5 510.8L1648.0 510.9L1649.5 511.0L1651.0 511.1L1652.5 511.2"/>
</g>
<rect x="225.0" y="54.0" width="1428.4" height="1149.7" fill="none" stroke="#000" stroke-width="5"/>
<rect x="284" y="94" width="483.7" height="273" fill="#fff" stroke="#000" stroke-width="5"/>
<line x1="311.7" y1="155.6" x2="435.4" y2="155.6" stroke="#505050" stroke-width="4"/>
<line x1="311.7" y1="230" x2="435.4" y2="230" stroke="#ef4547" stroke-width="4.6"/>
<line x1="311" y1="303" x2="426.5" y2="303" stroke="#303030" stroke-width="4.4" stroke-dasharray="12 8.7"/>
<g class="lg">
<text transform="translate(463.3 177) scale(1 1.035)">Test</text>
<text transform="translate(461.2 251.2) scale(1 1.035)">Simulation</text>
<text transform="translate(461.2 325.4) scale(1.01 1.04)">Stable Line</text>
</g>
</g>
</svg>
</body></html>
